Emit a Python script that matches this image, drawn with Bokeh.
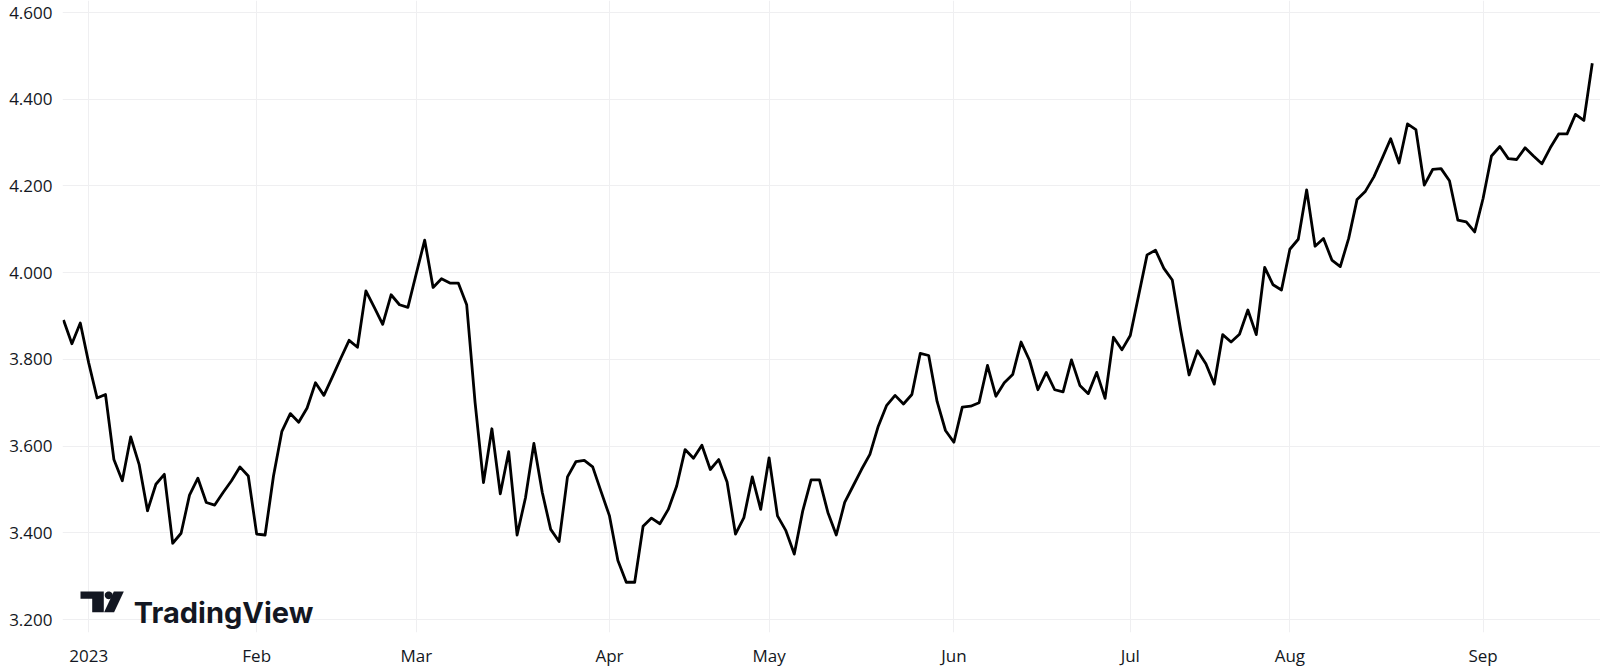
from bokeh.plotting import figure
from bokeh.models import (FixedTicker, PrintfTickFormatter, Range1d, PolyAnnotation,
                          Label, ColumnDataSource)
from bokeh.embed import file_html
from bokeh.resources import INLINE
import math

# ---- data: daily closes, one list per month (trading days) ----
dec22 = [3.891, 3.836, 3.884]
jan23 = [3.792, 3.711, 3.719, 3.569, 3.520, 3.621, 3.558, 3.451, 3.512, 3.535,
         3.376, 3.399, 3.487, 3.526, 3.470, 3.464, 3.493, 3.520, 3.552, 3.531]
feb23 = [3.397, 3.395, 3.531, 3.634, 3.675, 3.655, 3.688, 3.746, 3.717, 3.759,
         3.802, 3.844, 3.828, 3.958, 3.920, 3.881, 3.949, 3.926, 3.920]
mar23 = [3.998, 4.075, 3.966, 3.986, 3.976, 3.976, 3.926, 3.700, 3.516, 3.640,
         3.490, 3.587, 3.395, 3.481, 3.606, 3.493, 3.408, 3.380, 3.529, 3.564,
         3.567, 3.552, 3.495]
apr23 = [3.439, 3.336, 3.286, 3.286, 3.415, 3.434, 3.421, 3.454, 3.508, 3.592,
         3.572, 3.602, 3.546, 3.569, 3.517, 3.397, 3.435, 3.529, 3.454]
may23 = [3.573, 3.439, 3.405, 3.351, 3.450, 3.522, 3.522, 3.447, 3.395, 3.470,
         3.508, 3.546, 3.581, 3.646, 3.694, 3.717, 3.697, 3.719, 3.814, 3.809,
         3.703, 3.636]
jun23 = [3.609, 3.690, 3.692, 3.700, 3.786, 3.715, 3.746, 3.765, 3.840, 3.798,
         3.730, 3.770, 3.730, 3.725, 3.799, 3.740, 3.721, 3.770, 3.710, 3.851,
         3.822]
jul23 = [3.855, 3.948, 4.041, 4.052, 4.010, 3.983, 3.867, 3.764, 3.820, 3.790,
         3.743, 3.857, 3.840, 3.858, 3.914, 3.857, 4.012, 3.972, 3.960]
aug23 = [4.054, 4.077, 4.191, 4.061, 4.079, 4.029, 4.014, 4.079, 4.169, 4.188,
         4.221, 4.264, 4.309, 4.253, 4.343, 4.330, 4.202, 4.238, 4.240, 4.212,
         4.121, 4.117, 4.094]
sep23 = [4.171, 4.269, 4.291, 4.263, 4.261, 4.288, 4.269, 4.251, 4.288, 4.320,
         4.320, 4.365, 4.351, 4.483]

months = [dec22, jan23, feb23, mar23, apr23, may23, jun23, jul23, aug23, sep23]
month_labels = ["2023", "Feb", "Mar", "Apr", "May", "Jun", "Jul", "Aug", "Sep"]
y_ticks = [3.2, 3.4, 3.6, 3.8, 4.0, 4.2, 4.4, 4.6]

values = [v for m in months for v in m]
idx = list(range(len(values)))
starts = []
c = 0
for m in months:
    starts.append(c)
    c += len(m)
tick_pos = starts[1:]

TEXT = "#131722"
GRID = "#efeff1"
FONT = "Open Sans"

p = figure(width=1600, height=670, output_backend="svg", toolbar_location=None,
           x_range=Range1d(-0.119, 182.98), y_range=Range1d(3.17012, 4.62768),
           min_border_left=62, min_border_right=0, min_border_top=0,
           min_border_bottom=38)
p.outline_line_color = None
p.background_fill_color = "white"
p.border_fill_color = "white"

src = ColumnDataSource(dict(x=idx, y=values))
p.line("x", "y", source=src, line_color="black", line_width=2.8, line_join="round")

# axes
p.xaxis.ticker = FixedTicker(ticks=tick_pos)
p.xaxis.major_label_overrides = {t: l for t, l in zip(tick_pos, month_labels)}
p.yaxis.ticker = FixedTicker(ticks=y_ticks)
p.yaxis.formatter = PrintfTickFormatter(format="%.3f")
for ax in (p.xaxis[0], p.yaxis[0]):
    ax.axis_line_color = None
    ax.major_tick_line_color = None
    ax.minor_tick_line_color = None
    ax.major_tick_out = 0
    ax.major_tick_in = 0
    ax.minor_tick_out = 0
    ax.minor_tick_in = 0
    ax.major_label_text_color = TEXT
    ax.major_label_text_font = FONT
    ax.major_label_text_font_size = "17px"
p.yaxis.major_label_standoff = 10
p.xaxis.major_label_standoff = 11

p.xgrid.ticker = FixedTicker(ticks=tick_pos)
p.ygrid.ticker = FixedTicker(ticks=y_ticks)
p.xgrid.grid_line_color = GRID
p.ygrid.grid_line_color = GRID
p.xgrid.grid_line_width = 1
p.ygrid.grid_line_width = 1

# TradingView watermark (screen units, relative to frame bottom-left)
p.add_layout(PolyAnnotation(xs=[18, 41.3, 41.3, 29.7, 29.7, 18],
                            ys=[41, 41, 20.3, 20.3, 33.7, 33.7],
                            xs_units="screen", ys_units="screen",
                            fill_color=TEXT, fill_alpha=1, line_color=None))
p.add_layout(PolyAnnotation(xs=[41.6, 51.6, 61.3, 51.3],
                            ys=[20.3, 20.3, 41, 41],
                            xs_units="screen", ys_units="screen",
                            fill_color=TEXT, fill_alpha=1, line_color=None))
cx, cy, r = 46.2, 37.2, 3.9
p.add_layout(PolyAnnotation(xs=[cx + r * math.cos(a * math.pi / 12) for a in range(24)],
                            ys=[cy + r * math.sin(a * math.pi / 12) for a in range(24)],
                            xs_units="screen", ys_units="screen",
                            fill_color=TEXT, fill_alpha=1, line_color=None))
p.add_layout(Label(x=71.3, y=20.3, x_units="screen", y_units="screen",
                   text="TradingView", text_font="Inter", text_font_style="bold",
                   text_font_size="29px", text_color=TEXT,
                   text_baseline="alphabetic"))

open("out.html", "w").write(file_html(p, INLINE))
